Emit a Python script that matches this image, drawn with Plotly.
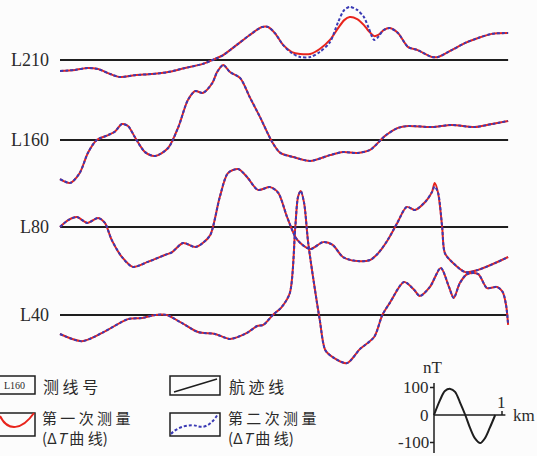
import plotly.graph_objects as go

# ---------------- data (km along line, ΔT in nT) ----------------
line_names = ["L210", "L160", "L80", "L40"]
line_length_km = 6.59

l210_km = [0.00, 0.22, 0.41, 0.56, 0.74, 0.88, 1.10, 1.35, 1.59, 1.84, 2.09, 2.28, 2.40, 2.60, 2.79,
           2.97, 3.06, 3.16, 3.28, 3.41, 3.53, 3.68, 3.82, 3.97, 4.09, 4.18, 4.26, 4.37, 4.47, 4.54,
           4.62, 4.68, 4.76, 4.85, 4.97, 5.12, 5.26, 5.47, 5.56, 5.76, 5.96, 6.15, 6.35, 6.59]
l210_first = [-40, -36, -29, -33, -51, -62, -55, -51, -44, -29, -15, 4, 18, 55, 91,
              120, 120, 98, 55, 29, 22, 22, 40, 73, 116, 145, 156, 149, 127, 105,
              87, 91, 109, 116, 98, 47, 36, 11, 11, 36, 62, 80, 95, 98]
l210_second = [-40, -36, -29, -33, -51, -62, -55, -51, -44, -29, -15, 4, 18, 55, 91,
               120, 120, 98, 55, 25, 11, 11, 29, 65, 138, 182, 193, 182, 156, 116,
               73, 84, 109, 116, 98, 47, 36, 11, 11, 36, 62, 80, 95, 98]

l160_km = [0.00, 0.15, 0.29, 0.41, 0.54, 0.71, 0.81, 0.91, 1.00, 1.10, 1.25, 1.40, 1.59, 1.74, 1.88,
           1.99, 2.10, 2.24, 2.31, 2.40, 2.50, 2.65, 2.79, 2.94, 3.12, 3.24, 3.43, 3.68, 3.97, 4.16,
           4.37, 4.56, 4.78, 4.97, 5.12, 5.47, 5.76, 6.10, 6.35, 6.59]
l160_first = [-142, -156, -120, -47, 0, 18, 31, 58, 51, 11, -44, -58, -29, 47, 145,
              178, 171, 207, 247, 273, 247, 225, 156, 84, -7, -47, -62, -76, -55, -44,
              -47, -36, 15, 44, 51, 47, 55, 47, 58, 69]
l160_second = list(l160_first)

l80_km = [0.00, 0.12, 0.25, 0.40, 0.56, 0.66, 0.76, 0.91, 1.07, 1.29, 1.54, 1.65, 1.81, 1.99, 2.10,
          2.21, 2.35, 2.47, 2.62, 2.75, 2.91, 3.09, 3.21, 3.34, 3.49, 3.68, 3.87, 4.01, 4.16, 4.37,
          4.56, 4.68, 4.82, 4.96, 5.10, 5.22, 5.37, 5.47, 5.51, 5.56, 5.62, 5.66, 5.78, 5.96, 6.15,
          6.40, 6.59]
l80_first = [0, 25, 36, 15, 33, 15, -47, -109, -145, -127, -102, -91, -58, -73, -58,
             -29, 109, 196, 211, 182, 135, 145, 124, 36, -47, -80, -55, -65, -109, -124,
             -120, -95, -47, 15, 73, 62, 91, 127, 160, 124, 0, -95, -131, -164, -156,
             -131, -109]
l80_second = [0, 25, 36, 15, 33, 15, -47, -109, -145, -127, -102, -91, -58, -73, -58,
              -29, 109, 196, 211, 182, 135, 145, 124, 36, -47, -80, -55, -65, -109, -124,
              -120, -95, -47, 15, 73, 62, 91, 127, 147, 124, 0, -95, -131, -164, -156,
              -131, -109]

l40_km = [0.00, 0.32, 0.62, 1.00, 1.21, 1.40, 1.57, 1.79, 2.03, 2.28, 2.50, 2.75, 2.90, 2.99, 3.13,
          3.26, 3.38, 3.46, 3.50, 3.54, 3.59, 3.65, 3.75, 3.82, 3.90, 4.01, 4.22, 4.41, 4.62, 4.74,
          4.85, 5.06, 5.21, 5.29, 5.44, 5.60, 5.72, 5.79, 5.88, 5.99, 6.15, 6.28, 6.43, 6.51, 6.56,
          6.59]
l40_first = [-69, -95, -65, -15, -11, 0, 0, -29, -62, -69, -87, -65, -40, -36, 0,
             29, 80, 320, 429, 451, 407, 262, 91, -18, -127, -153, -175, -124, -80, 0,
             44, 120, 91, 69, 102, 171, 102, 62, 116, 149, 149, 98, 102, 84, 36,
             -36]
l40_second = list(l40_first)

# scale-bar wave (km from scale origin, nT)
scale_km = [0.00, 0.09, 0.16, 0.24, 0.31, 0.38, 0.46, 0.53, 0.60, 0.68, 0.75, 0.82, 0.90]
scale_nt = [0, 55, 87, 95, 84, 47, 0, -47, -84, -102, -84, -47, 0]
scale_ticks_nt = [100, 0, -100]
scale_tick_km = 1

# legend texts
legend_line_no = "测 线 号"
legend_track = "航 迹 线"
legend_first = "第 一 次 测 量<br>(Δ<i>T</i>&nbsp;曲 线)"
legend_second = "第 二 次 测 量<br>(Δ<i>T</i>&nbsp;曲 线)"

# ---------------- layout geometry ----------------
W, H = 537, 456
X0_PX, PX_PER_KM, PX_PER_NT = 60, 68.0, 0.275


def xd(px):
    return (px - X0_PX) / PX_PER_KM


def yd(py):
    return (H - py) / PX_PER_NT


def fx(px):
    return px / W


def fy(py):
    return 1 - py / H


baseline_py = [60, 140, 227, 315]
offsets = [yd(p) for p in baseline_py]

RED = "#e8241c"
BLUE = "#3a3ab4"
BLACK = "#1e1e1e"
TXT = "#2a2a2a"
SERIF = "Liberation Serif, DejaVu Serif, serif"
CJK = "Noto Sans CJK SC, sans-serif"

fig = go.Figure()

series = [
    (l210_km, l210_first, l210_second),
    (l160_km, l160_first, l160_second),
    (l80_km, l80_first, l80_second),
    (l40_km, l40_first, l40_second),
]

# baselines (track lines)
for off in offsets:
    fig.add_trace(go.Scatter(x=[0, line_length_km], y=[off, off], mode="lines",
                             line=dict(color=BLACK, width=2), hoverinfo="skip", showlegend=False))

# first measurement (red)
for (km, a, b), off in zip(series, offsets):
    fig.add_trace(go.Scatter(x=km, y=[v + off for v in a], mode="lines",
                             line=dict(color=RED, width=2, shape="spline", smoothing=0.8),
                             hoverinfo="skip", showlegend=False))
# second measurement (blue dashed)
for (km, a, b), off in zip(series, offsets):
    fig.add_trace(go.Scatter(x=km, y=[v + off for v in b], mode="lines",
                             line=dict(color=BLUE, width=2, shape="spline", smoothing=0.8, dash="3px,2px"),
                             hoverinfo="skip", showlegend=False))

# scale bar
sx0, sy0 = xd(434), yd(415)
fig.add_trace(go.Scatter(x=[sx0 + k for k in scale_km], y=[sy0 + v for v in scale_nt], mode="lines",
                         line=dict(color=BLACK, width=2, shape="spline", smoothing=0.9),
                         hoverinfo="skip", showlegend=False))

shapes = []
# scale axes
shapes.append(dict(type="line", xref="x", yref="y", x0=sx0, x1=sx0, y0=yd(383), y1=yd(453),
                   line=dict(color=BLACK, width=1.5)))
shapes.append(dict(type="line", xref="x", yref="y", x0=sx0, x1=sx0 + 1.05, y0=sy0, y1=sy0,
                   line=dict(color=BLACK, width=1.5)))
for t in scale_ticks_nt:
    if t != 0:
        shapes.append(dict(type="line", xref="x", yref="y", x0=sx0 - 4 / PX_PER_KM, x1=sx0,
                           y0=sy0 + t, y1=sy0 + t, line=dict(color=BLACK, width=1.5)))
shapes.append(dict(type="line", xref="x", yref="y", x0=sx0 + scale_tick_km, x1=sx0 + scale_tick_km,
                   y0=sy0, y1=sy0 + 4 / PX_PER_NT, line=dict(color=BLACK, width=1.5)))

# legend boxes
for (l, t, r, b) in [(-5, 376, 35, 394), (170, 376, 220, 395), (-5, 413, 35, 436), (170, 413, 220, 436)]:
    shapes.append(dict(type="rect", xref="paper", yref="paper", x0=fx(l), x1=fx(r), y0=fy(b), y1=fy(t),
                       line=dict(color=BLACK, width=1.5)))
shapes.append(dict(type="line", xref="paper", yref="paper", x0=fx(174), y0=fy(392), x1=fx(217), y1=fy(379),
                   line=dict(color=BLACK, width=1.5)))


def path(pts):
    s = "M %f,%f" % (fx(pts[0][0]), fy(pts[0][1]))
    rest = pts[1:]
    for i in range(0, len(rest), 3):
        c1, c2, p = rest[i:i + 3]
        s += " C %f,%f %f,%f %f,%f" % (fx(c1[0]), fy(c1[1]), fx(c2[0]), fy(c2[1]), fx(p[0]), fy(p[1]))
    return s


shapes.append(dict(type="path", xref="paper", yref="paper",
                   path=path([(0, 416), (8, 432), (22, 430), (34, 413)]),
                   line=dict(color=RED, width=2)))
shapes.append(dict(type="path", xref="paper", yref="paper",
                   path=path([(171, 434), (178, 426), (191, 424), (197, 426),
                              (203, 428), (210, 427), (218, 414)]),
                   line=dict(color=BLUE, width=2, dash="3px,2px")))

ann = []
for name, py in zip(line_names, baseline_py):
    ann.append(dict(x=fx(51), y=fy(py), text=name, xanchor="right", yanchor="middle",
                    font=dict(family=SERIF, size=18, color=TXT)))


def txt(px, py, s, anchor="left", font=CJK, size=16, align="left"):
    ann.append(dict(x=fx(px), y=fy(py), text=s, xanchor=anchor, yanchor="middle", align=align,
                    font=dict(family=font, size=size, color=TXT)))


txt(14, 385, "L160", "center", SERIF, 10)
txt(41, 386, legend_line_no)
txt(227, 386, legend_track)
txt(40, 427.5, legend_first, size=15)
txt(226, 427.5, legend_second, size=15)

txt(433, 367, "nT", "center", SERIF, 17)
for t in scale_ticks_nt:
    txt(431, 415 - t * PX_PER_NT, str(t), "right", SERIF, 17)
txt(501, 402, str(scale_tick_km), "center", SERIF, 17)
txt(511, 415, "km", "left", SERIF, 17)

for a in ann:
    a.update(xref="paper", yref="paper", showarrow=False)

fig.update_layout(
    width=W, height=H, margin=dict(l=0, r=0, t=0, b=0),
    paper_bgcolor="#fcfcfc", plot_bgcolor="#fcfcfc",
    xaxis=dict(range=[xd(0), xd(W)], visible=False, fixedrange=True),
    yaxis=dict(range=[yd(H), yd(0)], visible=False, fixedrange=True),
    shapes=shapes, annotations=ann, showlegend=False,
)

fig.write_html("out.html", config={"displayModeBar": False},
               post_script="document.body.style.margin='0';document.body.style.overflow='hidden';")
